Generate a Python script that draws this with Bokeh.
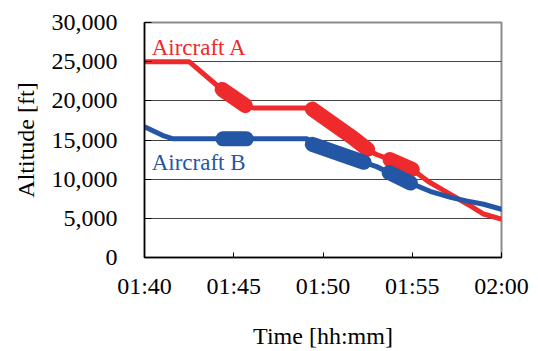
from bokeh.plotting import figure
from bokeh.models import FixedTicker, Range1d, Label
from bokeh.embed import file_html
from bokeh.resources import INLINE

# ---- data (minutes after 01:00, altitude in ft) ----
x_ticks = [40, 45, 50, 55, 60]
x_tick_labels = ["01:40", "01:45", "01:50", "01:55", "02:00"]
y_ticks = [0, 5000, 10000, 15000, 20000, 25000, 30000]
y_tick_labels = ["0", "5,000", "10,000", "15,000", "20,000", "25,000", "30,000"]

a_time = [40.0, 42.5, 44.2, 45.8, 46.1, 49.3, 51.7, 52.6, 53.0, 53.7, 55.0, 55.9, 57.0, 58.1, 59.0, 60.0]
a_alt = [25000, 25000, 21700, 19200, 19100, 19100, 15250, 13650, 13150, 12550, 11250, 9700, 8250, 6800, 5550, 4900]

b_time = [40.0, 41.0, 41.6, 49.1, 49.4, 52.3, 53.0, 53.7, 54.9, 56.0, 57.2, 58.1, 59.0, 60.0]
b_alt = [16700, 15600, 15150, 15150, 14450, 12150, 11600, 10850, 9500, 8450, 7650, 7200, 6800, 6150]

# highlighted (thick) portions
a_thick = [([44.35, 45.65], [21450, 19400]),
           ([49.4, 51.7, 52.5], [18950, 15250, 13800]),
           ([53.75, 55.0], [12500, 11250])]
b_thick = [([44.4, 45.7], [15150, 15150]),
           ([49.4, 52.3], [14450, 12150]),
           ([53.7, 54.9], [10850, 9500])]

RED = "#EE2A2C"
BLUE = "#2456A6"
FONT = "Liberation Serif"

p = figure(width=538, height=351, x_range=Range1d(40, 60), y_range=Range1d(0, 30000),
           output_backend="svg", toolbar_location=None,
           min_border_left=144, min_border_right=37, min_border_top=22, min_border_bottom=91)

p.background_fill_color = "white"
p.border_fill_color = "white"
p.outline_line_color = "#8c8c8c"
p.outline_line_width = 2

p.xgrid.visible = False
p.ygrid.grid_line_color = "#444444"
p.ygrid.grid_line_width = 1
p.ygrid.ticker = FixedTicker(ticks=y_ticks)

p.xaxis.ticker = FixedTicker(ticks=x_ticks)
p.xaxis.major_label_overrides = dict(zip(x_ticks, x_tick_labels))
p.yaxis.ticker = FixedTicker(ticks=y_ticks)
p.yaxis.major_label_overrides = dict(zip(y_ticks, y_tick_labels))

for ax in (p.xaxis, p.yaxis):
    ax.axis_line_color = "black"
    ax.axis_line_width = 1.5
    ax.major_tick_line_color = "black"
    ax.major_tick_line_width = 1
    ax.major_tick_out = 0
    ax.minor_tick_line_color = None
    ax.major_label_text_font = FONT
    ax.major_label_text_font_size = "24px"
    ax.major_label_text_color = "black"
    ax.axis_label_text_font = FONT
    ax.axis_label_text_font_size = "24px"
    ax.axis_label_text_font_style = "normal"
    ax.axis_label_text_color = "black"

p.xaxis.major_tick_in = 5
p.yaxis.major_tick_in = 7
p.xaxis.major_label_standoff = 15
p.yaxis.major_label_standoff = 27
p.xaxis.axis_label = "Time [hh:mm]"
p.yaxis.axis_label = "Altitude [ft]"
p.xaxis.axis_label_standoff = 21
p.yaxis.axis_label_standoff = 10

p.line(a_time, a_alt, line_color=RED, line_width=5, line_join="round", line_cap="round")
p.line(b_time, b_alt, line_color=BLUE, line_width=5, line_join="round", line_cap="round")
for t, a in a_thick:
    p.line(t, a, line_color=RED, line_width=15, line_join="round", line_cap="round")
for t, a in b_thick:
    p.line(t, a, line_color=BLUE, line_width=15, line_join="round", line_cap="round")

p.add_layout(Label(x=40.4, y=26750, text="Aircraft A", text_color=RED, text_font=FONT,
                   text_font_size="23px", text_baseline="alphabetic", text_align="left"))
p.add_layout(Label(x=40.4, y=12150, text="Aircraft B", text_color=BLUE, text_font=FONT,
                   text_font_size="23px", text_baseline="alphabetic", text_align="left"))

open("out.html", "w").write(file_html(p, INLINE))
